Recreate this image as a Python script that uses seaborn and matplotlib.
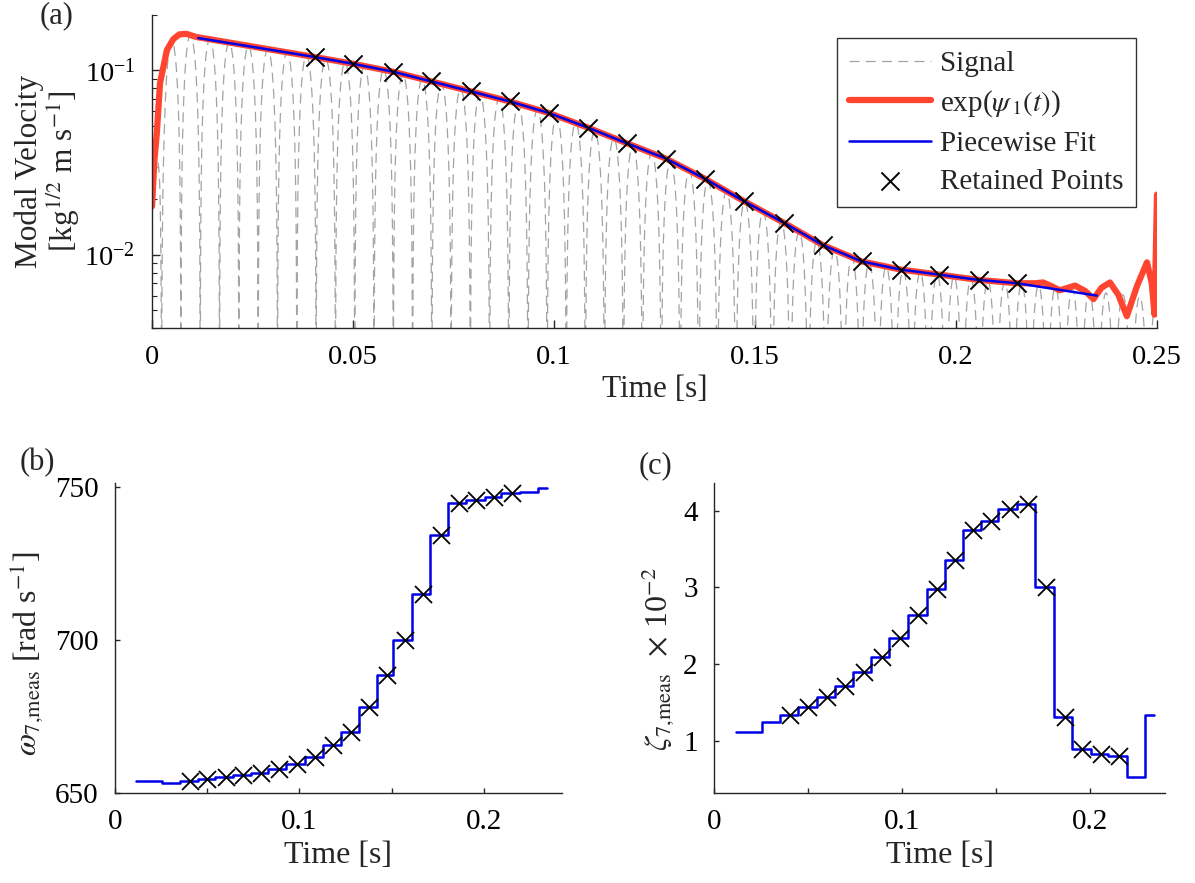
import numpy as np
import pandas as pd
import seaborn as sns
import matplotlib
matplotlib.use("Agg")
import matplotlib.pyplot as plt
from matplotlib.ticker import LogLocator, NullFormatter

# retained points (peaks kept for the fit)
t_kept = [0.0405, 0.0500, 0.0600, 0.0695, 0.0794, 0.0890, 0.0988, 0.1084, 0.1182, 0.1279,
          0.1376, 0.1473, 0.1572, 0.1668, 0.1765, 0.1863, 0.1958, 0.2056, 0.2152]
amp_kept = [0.1183, 0.1087, 0.0984, 0.0872, 0.0769, 0.0679, 0.0587, 0.0490, 0.0402, 0.0332,
            0.0258, 0.0195, 0.0149, 0.0113, 0.0092, 0.0083, 0.0078, 0.0073, 0.0070]

# piecewise fit (blue) end points
fit_start = (0.0115, 0.150)
fit_end = (0.2350, 0.0060)

# exp(psi_1(t)) : start-up part and the noisy tail
psi_head_t = [0.0, 0.0006, 0.0012, 0.0020, 0.0037, 0.0053, 0.0068, 0.0086, 0.0110]
psi_head_v = [0.0183, 0.0327, 0.0457, 0.0855, 0.129, 0.148, 0.157, 0.158, 0.152]
psi_tail_t = [0.2196, 0.2217, 0.2238, 0.2258, 0.2279, 0.2296, 0.2321, 0.2342, 0.2362,
              0.2383, 0.2404, 0.2425, 0.2450, 0.2475, 0.2487, 0.2494, 0.2500]
psi_tail_v = [0.00700, 0.00707, 0.00674, 0.00641, 0.00662, 0.00680, 0.00636, 0.00574, 0.00662,
              0.00707, 0.00605, 0.00464, 0.00674, 0.00909, 0.00700, 0.00473, 0.0212]

# step edges of the windowed estimates, panels (b) and (c)
step_edges = [0.0115, 0.0253, 0.0352, 0.0448, 0.0545, 0.0640, 0.0737, 0.0832, 0.0929, 0.1030,
              0.1129, 0.1226, 0.1323, 0.1418, 0.1509, 0.1610, 0.1707, 0.1806, 0.1903, 0.2004,
              0.2095, 0.2196, 0.2293, 0.2341]
omega_step = [653.8, 653.3, 653.8, 654.6, 655.1, 655.8, 656.6, 657.9, 659.3, 661.7, 665.6,
              669.9, 677.9, 688.6, 699.8, 714.8, 734.3, 744.7, 745.8, 746.6, 747.8, 748.2, 749.6]
zeta_step = [1.108, 1.245, 1.331, 1.443, 1.568, 1.719, 1.891, 2.089, 2.334, 2.636, 2.98,
             3.359, 3.742, 3.871, 4.022, 4.087, 3.0, 1.31, 0.892, 0.828, 0.806, 0.526, 1.336]
# windows 2..20 hold the retained points
omega_kept = omega_step[2:21]
zeta_kept = zeta_step[2:21]

RED = "#FF4530"
BLUE = "#0000E6"
GREY = "#A3A3A3"

sns.set_style("ticks")
plt.rcParams['font.family'] = ['Liberation Serif', 'DejaVu Serif']
plt.rcParams['mathtext.fontset'] = 'stix'
plt.rcParams['xtick.direction'] = 'in'
plt.rcParams['ytick.direction'] = 'in'
plt.rcParams['axes.edgecolor'] = '#262626'
plt.rcParams['xtick.color'] = '#262626'
plt.rcParams['ytick.color'] = '#262626'
plt.rcParams['xtick.labelcolor'] = 'black'
plt.rcParams['ytick.labelcolor'] = 'black'

# signal: envelope of the kept curve with the measured frequency as carrier
env_t = psi_head_t + t_kept + [0.25]
env_v = psi_head_v + amp_kept + [0.0058]
sig_t = np.arange(0, 0.2501, 2e-5)
env = 10 ** np.interp(sig_t, env_t, np.log10(env_v))
idx = np.clip(np.searchsorted(step_edges, sig_t) - 1, 0, len(omega_step) - 1)
phase = np.cumsum(np.array(omega_step)[idx]) * 2e-5
signal = np.clip(env * np.abs(np.cos(phase)), 1e-6, None)
sig_df = pd.DataFrame({"t": sig_t, "v": signal})

fit_t = [fit_start[0]] + t_kept + [fit_end[0]]
fit_v = [fit_start[1]] + amp_kept + [fit_end[1]]
psi_t = psi_head_t + t_kept + psi_tail_t
psi_v = psi_head_v + amp_kept + psi_tail_v

fig = plt.figure(figsize=(11.95, 8.83), dpi=100)
ax_a = fig.add_axes([0.1272, 0.6285, 0.841, 0.3545])
ax_b = fig.add_axes([0.0962, 0.1022, 0.374, 0.3507])
ax_c = fig.add_axes([0.5977, 0.1022, 0.3772, 0.3507])

# (a)
sns.lineplot(data=sig_df, x="t", y="v", ax=ax_a, color=GREY, lw=0.9, estimator=None,
             sort=False, label="Signal", linestyle=(0, (8, 5)))
sns.lineplot(x=psi_t, y=psi_v, ax=ax_a, color=RED, lw=4.5, estimator=None, sort=False,
             label=r"exp($\psi_{\,1}(t)$)")
sns.lineplot(x=fit_t, y=fit_v, ax=ax_a, color=BLUE, lw=1.8, estimator=None, sort=False,
             label="Piecewise Fit")
sns.scatterplot(x=t_kept, y=amp_kept, ax=ax_a, marker="x", s=170, color="black",
                linewidth=1.4, label="Retained Points", zorder=5)
ax_a.set_yscale("log")
ax_a.set_xlim(0, 0.25)
ax_a.set_ylim(0.004, 0.2)
ax_a.set_xticks([0, 0.05, 0.1, 0.15, 0.2, 0.25])
ax_a.set_xticklabels(["0", "0.05", "0.1", "0.15", "0.2", "0.25"])
ax_a.yaxis.set_major_locator(LogLocator(base=10, numticks=5))
ax_a.yaxis.set_minor_locator(LogLocator(base=10, subs=np.arange(2, 10), numticks=20))
ax_a.yaxis.set_minor_formatter(NullFormatter())
ax_a.set_xlabel("Time [s]", fontsize=22.5)
ax_a.set_ylabel("Modal Velocity\n" + r"[kg$^{1/2}$ m s$^{-1}$]", fontsize=22.5, linespacing=1.0)
ax_a.yaxis.set_label_coords(-0.0697, 0.5)
ax_a.tick_params(axis="both", which="major", labelsize=20.5, length=6, width=1, pad=12)
ax_a.tick_params(axis="y", which="minor", length=3.5, width=0.8)
ax_a.legend(loc="upper right", bbox_to_anchor=(0.979, 0.9265), fontsize=21, frameon=True,
            fancybox=False, edgecolor="#333333", framealpha=1, handlelength=2.8,
            labelspacing=0.39, borderpad=0.43, handletextpad=0.3, borderaxespad=0)

# (b)
sns.lineplot(x=step_edges, y=omega_step + [omega_step[-1]], ax=ax_b, color=BLUE, lw=1.8,
             estimator=None, sort=False, drawstyle="steps-post")
sns.scatterplot(x=t_kept, y=omega_kept, ax=ax_b, marker="x", s=150, color="black",
                linewidth=1.3, zorder=5)
ax_b.set_xlim(0, 0.2423)
ax_b.set_ylim(650, 751.2)
ax_b.set_yticks([650, 700, 750])
ax_b.set_ylabel(r"$\omega_{7{,}\mathrm{meas}}$ [rad s$^{-1}$]", fontsize=23)
ax_b.yaxis.set_label_coords(-0.154, 0.45)

# (c)
sns.lineplot(x=step_edges, y=zeta_step + [zeta_step[-1]], ax=ax_c, color=BLUE, lw=1.8,
             estimator=None, sort=False, drawstyle="steps-post")
sns.scatterplot(x=t_kept, y=zeta_kept, ax=ax_c, marker="x", s=150, color="black",
                linewidth=1.3, zorder=5)
ax_c.set_xlim(0, 0.2397)
ax_c.set_ylim(0.32, 4.36)
ax_c.set_yticks([1, 2, 3, 4])
ax_c.set_ylabel(r"$\zeta_{7{,}\mathrm{meas}}$  $\times$ 10$^{-2}$", fontsize=23)
ax_c.yaxis.set_label_coords(-0.082, 0.43)

for ax in (ax_b, ax_c):
    ax.set_xticks([0, 0.05, 0.1, 0.15, 0.2])
    ax.set_xticklabels(["0", "", "0.1", "", "0.2"])
    ax.set_xlabel("Time [s]", fontsize=23)
    ax.tick_params(axis="both", which="major", labelsize=21, length=3.5, width=1, pad=12)

for ax in (ax_a, ax_b, ax_c):
    sns.despine(ax=ax)
    for s in ("left", "bottom"):
        ax.spines[s].set_linewidth(1.0)

fig.text(57 / 1195, 1 - 16 / 883, "(a)", fontsize=22, ha="center", va="center")
fig.text(37 / 1195, 1 - 463 / 883, "(b)", fontsize=22, ha="center", va="center")
fig.text(655 / 1195, 1 - 466 / 883, "(c)", fontsize=22, ha="center", va="center")

fig.savefig("out.png", dpi=100)
